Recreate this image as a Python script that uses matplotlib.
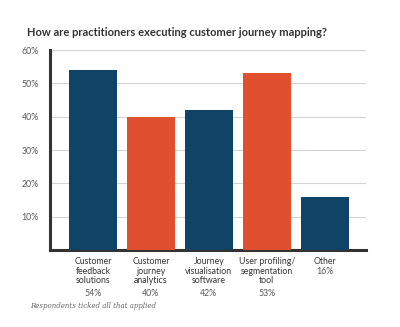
import numpy as np
import matplotlib
matplotlib.use("Agg")
import matplotlib.pyplot as plt

categories = ["Customer\nfeedback\nsolutions", "Customer\njourney\nanalytics",
              "Journey\nvisualisation\nsoftware", "User profiling/\nsegmentation\ntool",
              "Other"]
values = [54, 40, 42, 53, 16]
colors = ["#0f4466", "#e0502f", "#0f4466", "#e0502f", "#0f4466"]

plt.rcParams['font.family'] = ['Lato', 'DejaVu Sans']

fig = plt.figure(figsize=(4.0, 3.27), dpi=100)
ax = fig.add_axes([50/400, 1 - 250/327, 316/400, 200/327])

x = np.arange(len(values))
ax.bar(x, values, width=0.83, color=colors, zorder=3)

ax.set_xlim(-0.74, 4.71)
ax.set_ylim(0, 60)
ax.set_yticks([10, 20, 30, 40, 50, 60])
ax.set_yticklabels(["10%", "20%", "30%", "40%", "50%", "60%"], fontsize=6.3, color="#555555")
ax.yaxis.grid(True, color="#d4d4d4", linewidth=0.8, zorder=0)
ax.tick_params(axis='y', length=0, pad=8)
ax.tick_params(axis='x', length=0)
ax.set_xticks([])

for s in ["top", "right"]:
    ax.spines[s].set_visible(False)
ax.spines["left"].set_linewidth(2.2)
ax.spines["left"].set_color("#333333")
ax.spines["bottom"].set_linewidth(2.2)
ax.spines["bottom"].set_color("#333333")

# category names and values under each bar
for i, (cat, v) in enumerate(zip(categories, values)):
    ax.annotate(cat, (i, 0), xytext=(0, -5), textcoords="offset points",
                ha="center", va="top", fontsize=6.3, color="#333333", linespacing=1.1)
    nlines = cat.count("\n") + 1
    ax.annotate(f"{v}%", (i, 0), xytext=(0, -(4 + 8 * nlines)),
                textcoords="offset points", ha="center", va="top",
                fontsize=6.3, color="#555555")

fig.text(27/400, 1 - 32/327, "How are practitioners executing customer journey mapping?",
         fontsize=8, fontweight="bold", color="#333333", va="center")
fig.text(30/400, 1 - 306/327, "Respondents ticked all that applied", fontsize=5,
         style="italic", color="#666666", va="center", family="DejaVu Serif")

fig.savefig("out.png", dpi=100)
